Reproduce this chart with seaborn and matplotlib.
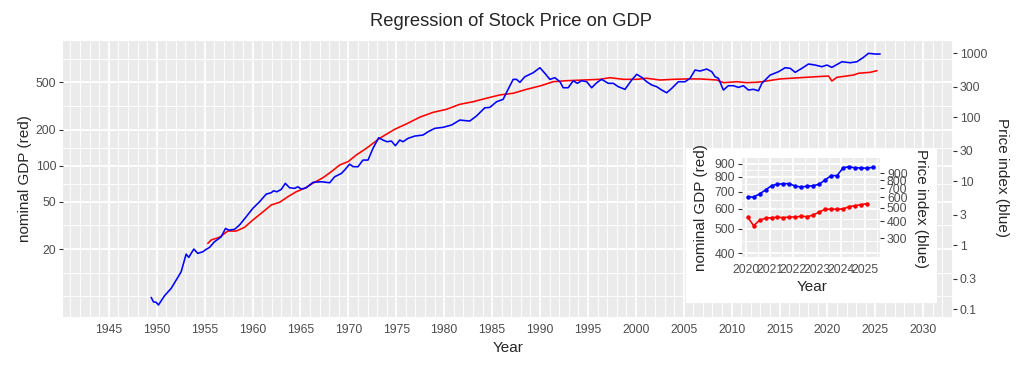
import numpy as np
import matplotlib
matplotlib.use("Agg")
import matplotlib.pyplot as plt
from matplotlib.patches import Rectangle
from matplotlib.ticker import FixedLocator, FixedFormatter, NullFormatter
import seaborn as sns

# stock price index (blue)
blue_year = [1949.42, 1949.66, 1949.94, 1950.18, 1950.46, 1950.81, 1951.51, 1952.03, 1952.55, 1953.07,
             1953.34, 1953.87, 1954.28, 1954.81, 1955.16, 1955.51, 1956.03, 1956.73, 1957.18, 1957.52,
             1958.12, 1958.64, 1959.34, 1960.03, 1960.73, 1961.43, 1961.95, 1962.19, 1962.54, 1963.00,
             1963.42, 1963.87, 1964.39, 1964.73, 1965.09, 1965.61, 1966.30, 1967.18, 1968.05, 1968.57,
             1969.27, 1969.61, 1970.13, 1970.48, 1971.00, 1971.52, 1972.05, 1972.57, 1973.16, 1973.61,
             1974.03, 1974.49, 1974.91, 1975.36, 1975.70, 1976.23, 1976.93, 1977.79, 1978.32, 1979.02,
             1979.88, 1980.76, 1981.63, 1982.67, 1983.37, 1984.24, 1984.76, 1985.46, 1986.15, 1986.67,
             1987.20, 1987.55, 1987.90, 1988.42, 1989.29, 1989.99, 1990.51, 1991.03, 1991.55, 1992.08,
             1992.42, 1992.94, 1993.47, 1993.89, 1994.34, 1994.87, 1995.39, 1995.91, 1996.43, 1997.12,
             1997.65, 1998.17, 1998.87, 1999.57, 2000.09, 2000.61, 2001.14, 2001.66, 2002.18, 2002.70,
             2003.22, 2003.75, 2004.44, 2005.14, 2005.66, 2006.18, 2006.70, 2007.40, 2007.93, 2008.27,
             2008.62, 2009.14, 2009.66, 2010.18, 2010.71, 2011.23, 2011.75, 2012.27, 2012.80, 2013.15,
             2014.02, 2014.89, 2015.59, 2016.11, 2016.63, 2017.33, 2018.02, 2018.72, 2019.42, 2019.94,
             2020.46, 2021.51, 2022.37, 2023.07, 2023.76, 2024.28, 2024.98, 2025.50]
blue_price = [0.154, 0.131, 0.129, 0.117, 0.136, 0.163, 0.213, 0.287, 0.387, 0.731,
              0.649, 0.876, 0.750, 0.794, 0.866, 0.930, 1.14, 1.36, 1.84, 1.73,
              1.78, 2.08, 2.80, 3.79, 4.80, 6.33, 6.64, 7.13, 6.88, 7.50,
              9.31, 7.94, 7.78, 8.23, 7.58, 7.94, 9.65, 9.86, 9.51, 11.8,
              13.3, 15.0, 18.6, 17.0, 16.9, 21.5, 21.5, 32.8, 48.0, 44.2,
              41.6, 42.6, 36.0, 44.2, 41.6, 47.0, 51.0, 52.9, 59.6, 67.3,
              69.8, 75.8, 90.7, 87.5, 105, 141, 143, 175, 191, 274,
              392, 392, 352, 431, 498, 596, 487, 392, 416, 360,
              290, 290, 373, 340, 373, 360, 290, 347, 392, 340,
              340, 301, 274, 383, 470, 422, 360, 320, 301, 267,
              242, 284, 360, 360, 407, 548, 529, 568, 516, 431,
              407, 267, 312, 312, 294, 312, 267, 274, 260, 340,
              458, 516, 596, 583, 505, 583, 681, 656, 618, 656,
              604, 739, 713, 739, 866, 1000, 975, 975]

# nominal GDP (red)
red_year = [1955.33, 1955.68, 1956.55, 1957.42, 1958.30, 1959.16, 1960.03, 1960.91, 1961.95, 1962.82,
            1963.69, 1964.57, 1965.43, 1966.30, 1967.35, 1968.22, 1969.09, 1969.96, 1970.83, 1971.88,
            1973.27, 1974.84, 1976.06, 1977.45, 1978.84, 1980.24, 1981.63, 1983.02, 1984.42, 1985.81,
            1987.20, 1988.60, 1989.99, 1991.38, 1992.78, 1994.51, 1996.26, 1997.30, 1998.69, 2000.09,
            2001.13, 2002.52, 2003.91, 2005.31, 2006.70, 2008.45, 2009.14, 2010.54, 2011.58, 2012.63,
            2013.15, 2015.06, 2017.15, 2018.90, 2020.11, 2020.46, 2020.99, 2022.72, 2023.25, 2024.47,
            2025.17]
red_gdp = [22.3, 23.8, 25.1, 28.3, 28.3, 30.4, 35.0, 39.9, 46.8, 49.3,
           54.9, 60.5, 64.6, 71.2, 79.3, 89.0, 101.3, 108.0, 122.9, 139.9,
           169.7, 202, 224, 255, 280, 297, 327, 344, 368, 392,
           405, 437, 466, 506, 516, 523, 530, 547, 530, 530,
           541, 523, 530, 534, 534, 523, 497, 506, 497, 501,
           506, 534, 547, 558, 565, 513, 551, 576, 596, 607,
           626]

# inset: quarterly since 2020
inset_quarter = [2020.08, 2020.33, 2020.58, 2020.83, 2021.08, 2021.33, 2021.58, 2021.83,
                 2022.08, 2022.33, 2022.58, 2022.83, 2023.08, 2023.33, 2023.58, 2023.83,
                 2024.08, 2024.33, 2024.58, 2024.83, 2025.08, 2025.33]
inset_price = [602, 602, 634, 678, 729, 747, 754, 754, 722, 713, 722,
               729, 747, 803, 864, 864, 984, 1006, 984, 984, 979, 995]
inset_gdp = [556, 514, 540, 550, 553, 555, 553, 556, 556, 560, 558,
             566, 582, 597, 597, 597, 598, 611, 616, 622, 628]

main_x_ticks = list(range(1945, 2031, 5))
main_gdp_ticks = [20, 50, 100, 200, 500]
main_price_ticks = [0.1, 0.3, 1, 3, 10, 30, 100, 300, 1000]
inset_x_ticks = [2020, 2021, 2022, 2023, 2024, 2025]
inset_gdp_ticks = [400, 500, 600, 700, 800, 900]
inset_price_ticks = [300, 400, 500, 600, 700, 800, 900]

# regression: log10(price) = B*log10(gdp) - A
A, B = 2.48, 1.8625


def p2g(p):
    return 10 ** ((np.log10(p) + A) / B)


def g2p(g):
    return 10 ** (B * np.log10(g) - A)


def log_minor(breaks):
    # ggplot-style minor breaks: midpoints in log space, extended one step each side
    lb = np.log10(breaks)
    lb = np.concatenate([[2 * lb[0] - lb[1]], lb, [2 * lb[-1] - lb[-2]]])
    mids = (lb[:-1] + lb[1:]) / 2
    return list(10 ** np.concatenate([mids, lb[:1], lb[-1:]]))


sns.set_style("darkgrid", {"axes.facecolor": "#EBEBEB", "grid.color": "white"})
plt.rcParams["font.family"] = ["Liberation Sans", "DejaVu Sans"]

TICK_LBL = "#4D4D4D"
TICK_COL = "#333333"
LW = 1.15

fig = plt.figure(figsize=(10.24, 3.72), dpi=100)
W, H = 1024, 372


def px_axes(l, t, r, b):
    return fig.add_axes([l / W, 1 - b / H, (r - l) / W, (b - t) / H])


def style(ax, size=8.8):
    for s in ax.spines.values():
        s.set_visible(False)
    ax.tick_params(which="major", length=2.75, width=0.8, color=TICK_COL,
                   labelcolor=TICK_LBL, labelsize=size, pad=2.2)
    ax.tick_params(which="minor", length=0)
    ax.xaxis.set_minor_formatter(NullFormatter())
    ax.yaxis.set_minor_formatter(NullFormatter())
    ax.grid(which="major", color="white", linewidth=1.3)
    ax.grid(which="minor", color="white", linewidth=0.65)


# ---- main panel ----
ax = px_axes(63.3, 41, 953, 317)
sns.lineplot(x=red_year, y=red_gdp, ax=ax, color="#FF0000", linewidth=LW,
             estimator=None, sort=False)
sns.lineplot(x=blue_year, y=[p2g(p) for p in blue_price], ax=ax, color="#0000FF",
             linewidth=LW, estimator=None, sort=False)
ax.set_yscale("log")
ax.set_xlim(1940.25, 2033.1)
ax.set_ylim(5.38, 1111)
ax.xaxis.set_major_locator(FixedLocator(main_x_ticks))
ax.xaxis.set_minor_locator(FixedLocator(list(range(1941, 2034))))
ax.yaxis.set_major_locator(FixedLocator(main_gdp_ticks))
ax.yaxis.set_major_formatter(FixedFormatter([str(v) for v in main_gdp_ticks]))
ax.yaxis.set_minor_locator(FixedLocator(log_minor(main_gdp_ticks)))
ax.set_xlabel("")
ax.set_ylabel("")
style(ax)

axr = ax.twinx()
axr.set_yscale("log")
axr.set_ylim(g2p(5.38), g2p(1111))
axr.yaxis.set_major_locator(FixedLocator(main_price_ticks))
axr.yaxis.set_major_formatter(FixedFormatter([f"{v:g}" for v in main_price_ticks]))
axr.yaxis.set_minor_locator(FixedLocator([]))
style(axr)
axr.grid(False, which="both")

fig.text(511 / W, 1 - 22 / H, "Regression of Stock Price on GDP", ha="center", va="center", fontsize=13.2)
fig.text(508 / W, 1 - 348 / H, "Year", ha="center", va="center", fontsize=11)
fig.text(25 / W, 1 - 179 / H, "nominal GDP (red)", ha="center", va="center", rotation=90, fontsize=11)
fig.text(1002 / W, 1 - 178 / H, "Price index (blue)", ha="center", va="center", rotation=270, fontsize=11)

# ---- inset ----
box = Rectangle((686 / W, 1 - 303 / H), 250.7 / W, 154.7 / H, transform=fig.transFigure,
                facecolor="white", edgecolor="none", zorder=1)
fig.add_artist(box)

axi = px_axes(741.7, 158.3, 880, 256.7)
axi.set_zorder(2)
sns.lineplot(x=inset_quarter[:len(inset_gdp)], y=inset_gdp, ax=axi, color="#FF0000", linewidth=LW,
             marker="o", markersize=3.2, markeredgewidth=0, estimator=None, sort=False)
sns.lineplot(x=inset_quarter, y=[p2g(p) for p in inset_price], ax=axi, color="#0000FF",
             linewidth=LW, marker="o", markersize=3.2, markeredgewidth=0, estimator=None, sort=False)
axi.set_yscale("log")
axi.set_xlim(2019.83, 2025.63)
axi.set_ylim(388, 947)
axi.xaxis.set_major_locator(FixedLocator(inset_x_ticks))
axi.xaxis.set_major_formatter(FixedFormatter([str(v) for v in inset_x_ticks]))
axi.xaxis.set_minor_locator(FixedLocator([2020.5, 2021.5, 2022.5, 2023.5, 2024.5, 2025.5]))
axi.yaxis.set_major_locator(FixedLocator(inset_gdp_ticks))
axi.yaxis.set_major_formatter(FixedFormatter([str(v) for v in inset_gdp_ticks]))
axi.yaxis.set_minor_locator(FixedLocator(log_minor(inset_gdp_ticks)[1:-3]))
axi.set_xlabel("")
axi.set_ylabel("")
style(axi)

axir = axi.twinx()
axir.set_zorder(3)
axir.set_yscale("log")
axir.set_ylim(g2p(388), g2p(947))
axir.yaxis.set_major_locator(FixedLocator(inset_price_ticks))
axir.yaxis.set_major_formatter(FixedFormatter([str(v) for v in inset_price_ticks]))
axir.yaxis.set_minor_locator(FixedLocator([]))
style(axir)
axir.grid(False, which="both")

fig.text(701.5 / W, 1 - 208 / H, "nominal GDP (red)", ha="center", va="center", rotation=90, fontsize=11)
fig.text(921 / W, 1 - 209 / H, "Price index (blue)", ha="center", va="center", rotation=270, fontsize=11)
fig.text(812 / W, 1 - 287 / H, "Year", ha="center", va="center", fontsize=11)

fig.savefig("out.png", dpi=100, facecolor="white")
